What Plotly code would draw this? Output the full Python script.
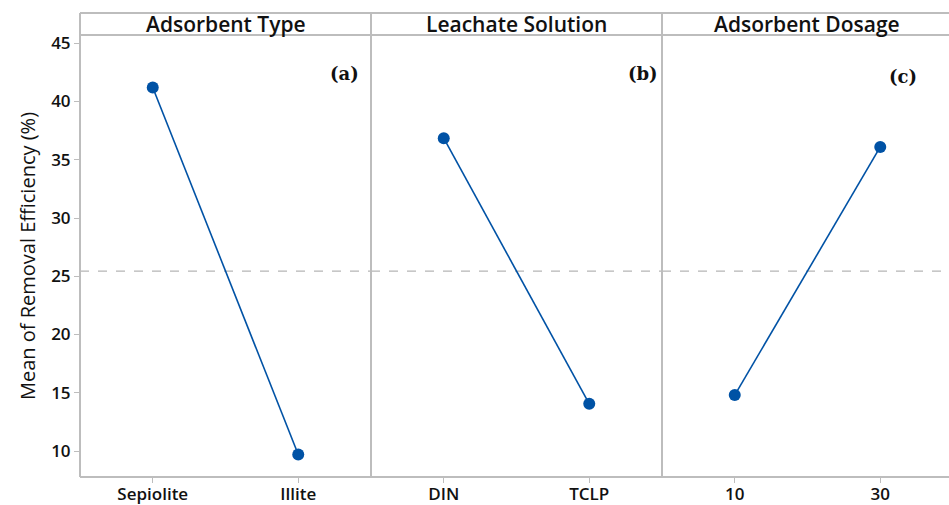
import plotly.graph_objects as go

# Main effects: mean removal efficiency (%) for each factor level
factors = ["Adsorbent Type", "Leachate Solution", "Adsorbent Dosage"]
panel_tags = ["(a)", "(b)", "(c)"]
levels_type = ["Sepiolite", "Illite"]
means_type = [41.2, 9.7]
levels_solution = ["DIN", "TCLP"]
means_solution = [36.85, 14.05]
levels_dosage = ["10", "30"]
means_dosage = [14.8, 36.1]

levels = [levels_type, levels_solution, levels_dosage]
means = [means_type, means_solution, means_dosage]
grand_mean = sum(means_type + means_solution + means_dosage) / 6

W, H = 949, 505
L, R, T, B = 80, 0, 35, 28
plot_w = W - L - R
panel_px = 291.0
dom = [(0, panel_px / plot_w), (panel_px / plot_w, 2 * panel_px / plot_w), (2 * panel_px / plot_w, 1.0)]
# last panel runs past the page edge; trim its range accordingly
last_hi = 1.5 - (3 * panel_px - plot_w) / (panel_px / 2.0)
xranges = [[-0.5, 1.5], [-0.5, 1.5], [-0.5, last_hi]]

grey = "#bdbdbd"
blue = "#0052a5"
sans = "Open Sans"
serif = "DejaVu Serif"

fig = go.Figure()
for i in range(3):
    ax = "" if i == 0 else str(i + 1)
    fig.add_trace(go.Scatter(
        x=levels[i], y=means[i], mode="lines+markers",
        line=dict(color=blue, width=1.6),
        marker=dict(color=blue, size=12, symbol="circle"),
        xaxis="x" + ax, yaxis="y" + ax, showlegend=False, hoverinfo="x+y",
    ))
    # grand mean reference line
    fig.add_shape(type="line", xref="x" + ax + " domain", yref="y" + ax,
                  x0=0, x1=1, y0=grand_mean, y1=grand_mean, layer="below",
                  line=dict(color="#b5b5b5", width=1.3, dash="dash"))

yrange = [7.77, 45.71]
tickfont = dict(family=sans, size=17, color="#111", weight=600)
layout = dict(
    width=W, height=H,
    margin=dict(l=L, r=R, t=T, b=B, pad=0, autoexpand=False),
    paper_bgcolor="white", plot_bgcolor="white",
    showlegend=False,
)
for i in range(3):
    ax = "" if i == 0 else str(i + 1)
    layout["xaxis" + ax] = dict(
        domain=list(dom[i]), anchor="y" + ax, type="category",
        categoryorder="array", categoryarray=levels[i], automargin=False,
        range=xranges[i], showgrid=False, zeroline=False, showline=False,
        ticks="outside", ticklen=5, tickcolor=grey, tickwidth=1.2,
        ticklabelstandoff=-3,
        tickfont=tickfont,
    )
    layout["yaxis" + ax] = dict(
        domain=[0, 1], anchor="x" + ax, range=yrange, automargin=False,
        tickvals=[10, 15, 20, 25, 30, 35, 40, 45],
        showgrid=False, zeroline=False, showline=False,
        ticks="outside" if i == 0 else "", ticklen=5, tickcolor=grey, tickwidth=1.2,
        showticklabels=(i == 0),
        tickfont=tickfont,
        matches="y" if i else None,
    )
layout["yaxis"]["title"] = dict(text="Mean of Removal Efficiency (%)",
                                font=dict(family=sans, size=20, color="#111"), standoff=10)
fig.update_layout(**layout)

# Frame, panel dividers and strip headers
y_top_strip = 1 + (T - 13) / (H - T - B)
line = dict(color=grey, width=2)
fig.add_shape(type="line", xref="paper", yref="paper", x0=0, x1=1.01, y0=0, y1=0, line=line)
fig.add_shape(type="line", xref="paper", yref="paper", x0=0, x1=1.01, y0=1, y1=1, line=line)
fig.add_shape(type="line", xref="paper", yref="paper", x0=0, x1=1.01, y0=y_top_strip, y1=y_top_strip, line=line)
for xd in [0, dom[1][0], dom[2][0]]:
    fig.add_shape(type="line", xref="paper", yref="paper", x0=xd, x1=xd, y0=0, y1=y_top_strip, line=line)

for i in range(3):
    x0 = dom[i][0]
    xc = x0 + (panel_px / 2) / plot_w
    fig.add_annotation(xref="paper", yref="paper", x=xc, y=(1 + y_top_strip) / 2,
                       text=factors[i], showarrow=False, xanchor="center", yanchor="middle",
                       font=dict(family=sans, size=21, color="#111", weight=600))
    ax = "" if i == 0 else str(i + 1)
    fig.add_annotation(xref="x" + ax + " domain", yref="paper",
                       x=[0.91, 0.935, 0.84][i], y=[0.914, 0.912, 0.906][i],
                       text="<b>" + panel_tags[i] + "</b>", showarrow=False,
                       xanchor="center", yanchor="middle",
                       font=dict(family=serif, size=18, color="#111"))

fig.write_html("out.html")
